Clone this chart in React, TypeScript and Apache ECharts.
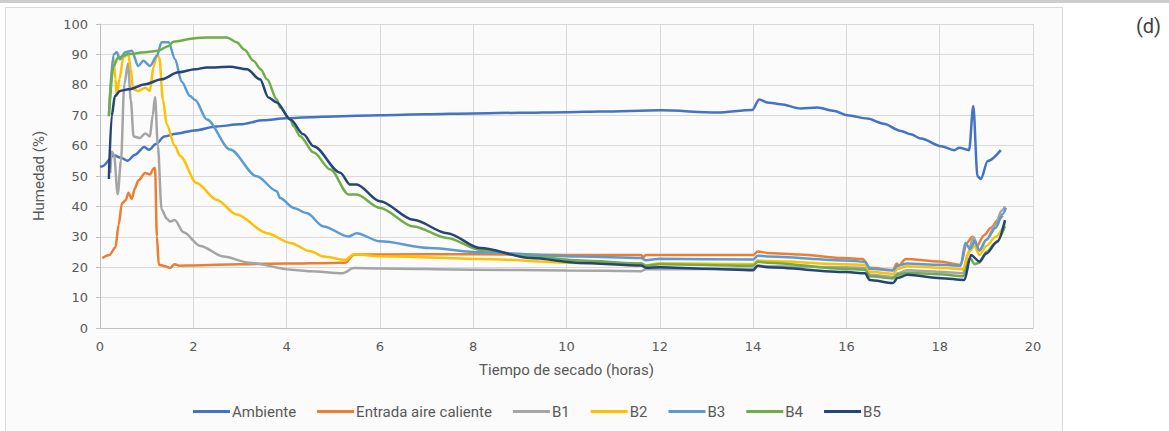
import React, { useEffect, useRef } from "react";
import * as echarts from "echarts";

const seriesNames = ["Ambiente", "Entrada aire caliente", "B1", "B2", "B3", "B4", "B5"];
const seriesColors = ["#4472C4", "#ED7D31", "#A5A5A5", "#FFC000", "#5B9BD5", "#70AD47", "#264478"];
const xTitle = "Tiempo de secado (horas)";
const yTitle = "Humedad (%)";
const panelLabel = "(d)";

const ambiente: number[][] = [
  [0, 53], [0.05, 53.2], [0.3, 56.8], [0.45, 56], [0.59, 55], [0.75, 57], [0.95, 59.5], [1.05, 58.6],
  [1.2, 60.5], [1.38, 63], [1.63, 63.9], [2.02, 65], [2.5, 66.3], [3, 67], [3.5, 68.3], [4, 69],
  [4.5, 69.3], [5, 69.6], [6, 70], [7, 70.3], [8, 70.6], [9, 70.8], [10, 71], [10.73, 71.2],
  [12.02, 71.6], [13.23, 70.9], [13.98, 71.7], [14.13, 75.2], [14.3, 74.2], [14.59, 73.6],
  [15.02, 72.2], [15.38, 72.5], [15.74, 71.4], [16.02, 70], [16.45, 68.9], [16.8, 67.2],
  [17.17, 64.8], [17.38, 63.7], [17.6, 62.3], [18.03, 59.8], [18.31, 58.5], [18.42, 59.3],
  [18.63, 58.5], [18.72, 73], [18.81, 49.9], [18.88, 49], [19.03, 54.9], [19.31, 58.5],
];

const entrada: number[][] = [
  [0.05, 23], [0.2, 24], [0.33, 26.5], [0.4, 34], [0.47, 41], [0.55, 42], [0.61, 44.5], [0.68, 42.5],
  [0.75, 46], [0.82, 48.5], [0.97, 51], [1.07, 50.5], [1.15, 52.5], [1.18, 52.7], [1.22, 30],
  [1.26, 20.8], [1.4, 20.3], [1.5, 19.7], [1.6, 21], [1.7, 20.5], [2, 20.6], [3, 21], [4, 21.2],
  [5, 21.4], [5.26, 21.5], [5.45, 24.2], [6, 24.2], [8, 24.3], [10, 24], [11.6, 24], [11.65, 23.3],
  [11.7, 24], [12, 24], [13, 24], [14, 24], [14.1, 25.2], [14.3, 24.7], [15, 24.2], [15.9, 23],
  [16.35, 22.7], [16.5, 19.8], [17, 19.1], [17.08, 21.2], [17.12, 20.5], [17.27, 22.7], [18, 21.9],
  [18.45, 20.8], [18.58, 28], [18.7, 30], [18.8, 27], [18.95, 30.5], [19.1, 33], [19.25, 35.5],
  [19.35, 37],
];

const b1: number[][] = [
  [0.22, 51], [0.25, 58], [0.3, 57], [0.38, 44], [0.45, 55], [0.52, 80], [0.6, 87], [0.66, 75],
  [0.72, 63], [0.85, 62.5], [0.97, 64], [1.07, 63], [1.13, 70], [1.18, 76], [1.24, 60], [1.32, 39],
  [1.43, 36], [1.5, 35], [1.6, 35.5], [1.79, 31.5], [2.15, 27], [2.65, 23.5], [3.2, 21.5],
  [4.1, 19.2], [4.5, 18.7], [5.2, 18], [5.44, 19.7], [6, 19.6], [8, 19.2], [10, 18.9], [11.6, 18.7],
  [11.7, 19.3], [12, 19.3], [14, 19.5], [14.1, 20.5], [14.3, 20.3], [16, 20], [16.4, 19.8],
  [16.5, 17.5], [17, 16.8], [17.1, 18], [17.3, 19], [18, 18.5], [18.5, 18], [18.6, 24], [18.72, 30],
  [18.85, 25.5], [19, 29], [19.2, 34], [19.32, 38.5], [19.4, 40],
];

const b2: number[][] = [
  [0.2, 72], [0.25, 85], [0.29, 89], [0.33, 82], [0.36, 76.5], [0.42, 82], [0.5, 89], [0.61, 90],
  [0.66, 85], [0.71, 78.5], [0.82, 78], [0.97, 79], [1.07, 78], [1.15, 86], [1.22, 90], [1.27, 89],
  [1.35, 75], [1.43, 67], [1.6, 60], [1.72, 56.5], [2.07, 47.7], [2.5, 42.2], [2.93, 37.3],
  [3.58, 31.2], [4.08, 28], [4.5, 25.3], [4.8, 23.5], [5.26, 22.4], [5.44, 24.3], [6, 23.6],
  [8.15, 22.7], [10.3, 21.4], [11.6, 21.2], [11.7, 20.6], [12, 21.3], [14, 21], [14.1, 22.2],
  [14.3, 22], [16, 21], [16.4, 20.8], [16.5, 18.5], [17, 17.8], [17.1, 19.5], [17.3, 20.3],
  [18, 19.8], [18.5, 19.3], [18.62, 25], [18.75, 27], [18.85, 24], [19, 27], [19.2, 30], [19.4, 34.5],
];

const b3: number[][] = [
  [0.19, 69.7], [0.29, 90], [0.36, 90.7], [0.43, 88.4], [0.54, 90.7], [0.68, 91.2], [0.82, 86.2],
  [0.93, 87.9], [1.07, 86.2], [1.22, 89.5], [1.32, 94], [1.47, 94], [1.61, 88.4], [1.75, 81],
  [1.93, 76.3], [2.04, 75], [2.29, 68.6], [2.79, 58.7], [3.36, 49.9], [3.79, 45], [3.86, 42.8],
  [4.15, 39.5], [4.43, 37.8], [4.79, 33.4], [5.33, 30.1], [5.5, 31.2], [6, 28.5], [7.08, 26.3],
  [8.15, 24.9], [10.3, 23.5], [11.6, 23], [11.7, 22.3], [12, 22.8], [14, 22.5], [14.1, 23.8],
  [14.3, 23.5], [16, 22.2], [16.4, 21.8], [16.5, 19.5], [17, 18.9], [17.1, 20.5], [17.3, 21.2],
  [18, 20.8], [18.45, 20.5], [18.55, 28], [18.65, 26], [18.75, 28.5], [18.85, 25.5], [19, 29],
  [19.2, 33], [19.35, 37.5], [19.42, 39.5],
];

const b4: number[][] = [
  [0.19, 69.7], [0.29, 86.2], [0.39, 89], [0.61, 90.1], [0.97, 90.7], [1.25, 91.2], [1.47, 92.8],
  [1.57, 94.2], [2.04, 95.3], [2.29, 95.6], [2.72, 95.6], [2.93, 94], [3.1, 91.5], [3.29, 87.9],
  [3.45, 85], [3.58, 81.8], [3.79, 75.2], [3.86, 72.5], [4.08, 68.6], [4.15, 66.4], [4.29, 63.1],
  [4.58, 57.7], [4.94, 52.1], [5.33, 43.9], [5.5, 43.9], [6, 39.5], [6.72, 33.4], [7.44, 29.6],
  [8.15, 25.7], [9.23, 23.5], [10.3, 22.2], [11.6, 21.2], [11.7, 20.5], [12, 21], [14, 20.5],
  [14.1, 21.8], [14.3, 21.5], [16, 19.4], [16.4, 19.2], [16.5, 17], [17, 16.3], [17.1, 17.5],
  [17.3, 18.2], [18, 17.7], [18.5, 17], [18.65, 23], [18.75, 21], [18.85, 21.5], [19, 25],
  [19.2, 28], [19.4, 33.5],
];

const b5: number[][] = [
  [0.19, 49], [0.25, 69.7], [0.32, 76.3], [0.43, 78], [0.61, 78.5], [0.97, 80.2], [1.32, 81.8],
  [1.68, 84.1], [2.04, 85.1], [2.29, 85.7], [2.79, 85.9], [3.15, 85.1], [3.43, 81.8], [3.61, 75.8],
  [3.79, 74.2], [4.08, 68.6], [4.36, 63.7], [4.58, 59.8], [5.15, 51.1], [5.36, 47.2], [5.5, 47.2],
  [6, 41.7], [6.72, 35.6], [7.44, 31.2], [8.15, 26.3], [9.23, 23], [10.3, 21.4], [11.6, 20.6],
  [11.7, 19.8], [12, 20], [13, 19.5], [14, 19], [14.1, 20.5], [14.3, 20], [16, 18.4], [16.4, 18],
  [16.5, 15.8], [17, 14.8], [17.1, 16.5], [17.31, 17.5], [18.03, 16.4], [18.53, 15.8],
  [18.67, 24], [18.85, 21.9], [19, 24.5], [19.24, 28.5], [19.4, 35.5],
];

const seriesData = [ambiente, entrada, b1, b2, b3, b4, b5];

const narrow = "'Liberation Sans Narrow', 'Arial Narrow', 'Roboto', sans-serif";
const tickFont = "'DejaVu Sans', 'Verdana', sans-serif";

export default function App() {
  const ref = useRef<HTMLDivElement>(null);
  useEffect(() => {
    if (!ref.current) return;
    const chart = echarts.init(ref.current, undefined, { renderer: "svg" });
    chart.setOption({
      animation: false,
      backgroundColor: "transparent",
      color: seriesColors,
      grid: { left: 100, right: 136, top: 24, bottom: 103, containLabel: false },
      legend: {
        left: 188,
        top: 399,
        icon: "rect",
        itemWidth: 37,
        itemHeight: 3,
        itemGap: 21,
        textStyle: { fontFamily: narrow, fontSize: 15, color: "#595959", padding: [0, 0, 0, -3] },
        data: seriesNames,
      },
      xAxis: {
        type: "value",
        min: 0,
        max: 20,
        interval: 2,
        name: xTitle,
        nameLocation: "middle",
        nameGap: 34,
        nameTextStyle: { fontFamily: narrow, fontSize: 15, color: "#595959" },
        axisLine: { show: true, lineStyle: { color: "#bfbfbf", width: 1 } },
        axisTick: { show: false },
        axisLabel: { fontFamily: tickFont, fontSize: 13, color: "#595959", margin: 12 },
        splitLine: { show: true, lineStyle: { color: "#d9d9d9", width: 1 } },
      },
      yAxis: {
        type: "value",
        min: 0,
        max: 100,
        interval: 10,
        name: yTitle,
        nameLocation: "middle",
        nameGap: 54,
        nameTextStyle: { fontFamily: narrow, fontSize: 15, color: "#595959" },
        axisLine: { show: true, lineStyle: { color: "#bfbfbf", width: 1 } },
        axisTick: { show: true, length: 4, lineStyle: { color: "#bfbfbf" } },
        axisLabel: { fontFamily: tickFont, fontSize: 13, color: "#595959", margin: 12 },
        splitLine: { show: true, lineStyle: { color: "#d9d9d9", width: 1 } },
      },
      graphic: [
        {
          type: "text",
          right: 8,
          top: 16,
          style: { text: panelLabel, fontFamily: narrow, fontSize: 20, fill: "#404040" },
        },
      ],
      series: seriesNames.map((name, i) => ({
        name,
        type: "line",
        data: seriesData[i],
        showSymbol: false,
        symbol: "none",
        smooth: 0.3,
        smoothMonotone: "x",
        lineStyle: { width: 2.5, color: seriesColors[i] },
        itemStyle: { color: seriesColors[i] },
      })),
    });
    return () => chart.dispose();
  }, []);

  return (
    <div style={{ position: "fixed", left: 0, top: 0, width: 1169, height: 431, background: "#ffffff", overflow: "hidden" }}>
      <div style={{ position: "absolute", left: 0, top: 0, width: 1169, height: 3, background: "#cdcdcd" }} />
      <div
        style={{
          position: "absolute",
          left: 5,
          top: 7,
          width: 1056,
          height: 440,
          background: "#fbfbfb",
          border: "1px solid #d9d9d9",
        }}
      />
      <div ref={ref} style={{ position: "absolute", left: 0, top: 0, width: 1169, height: 431 }} />
    </div>
  );
}
